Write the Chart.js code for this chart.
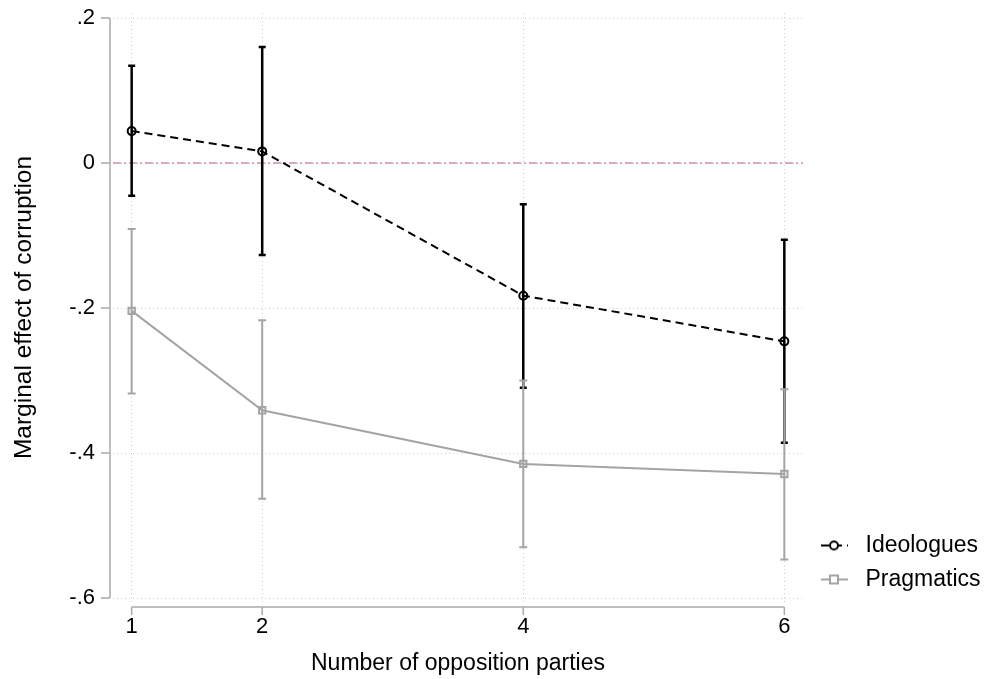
<!DOCTYPE html>
<html lang="en">
<head>
  <meta charset="UTF-8">
  <title>Marginal effect of corruption</title>
  <script src="https://cdn.jsdelivr.net/npm/chart.js"></script>
  <style>
    html, body { margin: 0; padding: 0; background: #fff; }
  </style>
</head>
<body>
  <canvas id="effectChart" width="990" height="679"></canvas>

  <script>
    // data
    const parties = [1, 2, 4, 6];
    const partyLabels = ['1', '2', '4', '6'];
    const yTicks = [0.2, 0, -0.2, -0.4, -0.6];
    const yTickLabels = ['.2', '0', '-.2', '-.4', '-.6'];

    const ideoEffect = [0.044, 0.016, -0.183, -0.246];
    const ideoLower = [-0.045, -0.127, -0.310, -0.386];
    const ideoUpper = [0.134, 0.160, -0.057, -0.106];

    const pragEffect = [-0.204, -0.341, -0.415, -0.429];
    const pragLower = [-0.318, -0.463, -0.530, -0.547];
    const pragUpper = [-0.091, -0.217, -0.300, -0.312];

    const FONT = "'Liberation Sans', Arial, sans-serif";
    const GRAY = '#a4a4a4';

    // small legend symbols: line + marker
    function legendIcon(kind) {
      const c = document.createElement('canvas');
      c.width = 30; c.height = 14;
      const g = c.getContext('2d');
      g.lineWidth = 2;
      if (kind === 'ideo') {
        g.strokeStyle = '#000';
        g.setLineDash([8, 5]);
        g.beginPath(); g.moveTo(2, 7); g.lineTo(29, 7); g.stroke();
        g.setLineDash([]);
        g.fillStyle = '#fff';
        g.beginPath(); g.arc(15, 7, 4, 0, Math.PI * 2); g.fill(); g.stroke();
      } else {
        g.strokeStyle = GRAY;
        g.beginPath(); g.moveTo(2, 7); g.lineTo(29, 7); g.stroke();
        g.fillStyle = '#fff';
        g.fillRect(11, 3, 8, 8); g.strokeRect(11, 3, 8, 8);
      }
      return c;
    }
    const legendIcons = [legendIcon('ideo'), legendIcon('prag')];

    function drawBars(ctx, x, y, lower, upper, color, width, cap) {
      ctx.strokeStyle = color;
      ctx.lineWidth = width;
      ctx.setLineDash([]);
      parties.forEach((p, i) => {
        const px = x.getPixelForValue(p);
        const top = y.getPixelForValue(upper[i]);
        const bot = y.getPixelForValue(lower[i]);
        ctx.beginPath();
        ctx.moveTo(px, top); ctx.lineTo(px, bot);
        ctx.moveTo(px - cap, top); ctx.lineTo(px + cap, top);
        ctx.moveTo(px - cap, bot); ctx.lineTo(px + cap, bot);
        ctx.stroke();
      });
    }

    const stataBits = {
      id: 'stataBits',
      afterInit(chart) {
        // fixed width for the legend column on the right
        const lg = chart.legend;
        const fit = lg.fit;
        lg.fit = function () { fit.call(this); this.width = 187; };
      },
      beforeDatasetsDraw(chart) {
        const { ctx, chartArea, scales: { x, y } } = chart;
        ctx.save();
        // reference line at zero
        const y0 = y.getPixelForValue(0);
        ctx.strokeStyle = '#d08db4';
        ctx.lineWidth = 1.5;
        ctx.setLineDash([8, 3, 2, 3]);
        ctx.beginPath(); ctx.moveTo(chartArea.left, y0); ctx.lineTo(chartArea.right, y0); ctx.stroke();
        // confidence intervals
        drawBars(ctx, x, y, ideoLower, ideoUpper, '#000', 2.5, 3.5);
        drawBars(ctx, x, y, pragLower, pragUpper, GRAY, 2, 4);
        ctx.restore();
      },
      afterDraw(chart) {
        // offset axis lines with outward ticks
        const { ctx, chartArea, scales: { x, y } } = chart;
        ctx.save();
        ctx.strokeStyle = '#ababab';
        ctx.lineWidth = 1.5;
        ctx.setLineDash([]);
        const axX = chartArea.left - 3;
        const axY = chartArea.bottom + 5;
        ctx.beginPath();
        ctx.moveTo(axX, y.getPixelForValue(yTicks[0]));
        ctx.lineTo(axX, y.getPixelForValue(yTicks[yTicks.length - 1]));
        yTicks.forEach(v => {
          const py = y.getPixelForValue(v);
          ctx.moveTo(axX, py); ctx.lineTo(axX - 9, py);
        });
        ctx.moveTo(x.getPixelForValue(parties[0]), axY);
        ctx.lineTo(x.getPixelForValue(parties[parties.length - 1]), axY);
        parties.forEach(v => {
          const px = x.getPixelForValue(v);
          ctx.moveTo(px, axY); ctx.lineTo(px, axY + 8);
        });
        ctx.stroke();
        ctx.restore();
      }
    };

    new Chart(document.getElementById('effectChart'), {
      type: 'line',
      data: {
        datasets: [
          {
            label: 'Ideologues',
            data: parties.map((p, i) => ({ x: p, y: ideoEffect[i] })),
            borderColor: '#000',
            borderWidth: 2,
            borderDash: [8, 5],
            pointStyle: 'circle',
            pointRadius: 4,
            pointBorderWidth: 2,
            pointBorderColor: '#000',
            pointBackgroundColor: 'rgba(255,255,255,0)',
            tension: 0
          },
          {
            label: 'Pragmatics',
            data: parties.map((p, i) => ({ x: p, y: pragEffect[i] })),
            borderColor: GRAY,
            borderWidth: 2,
            pointStyle: 'rect',
            pointRadius: 4.5,
            pointBorderWidth: 2,
            pointBorderColor: GRAY,
            pointBackgroundColor: 'rgba(255,255,255,0)',
            tension: 0
          }
        ]
      },
      options: {
        responsive: false,
        animation: false,
        layout: { padding: { top: 13, left: 0, right: 0, bottom: 0 } },
        plugins: {
          tooltip: { enabled: false },
          legend: {
            position: 'right',
            align: 'end',
            fullSize: false,
            labels: {
              usePointStyle: true,
              pointStyleWidth: 40,
              padding: 11,
              color: '#000',
              font: { family: FONT, size: 23 },
              generateLabels(chart) {
                const items = Chart.defaults.plugins.legend.labels.generateLabels(chart);
                items.forEach((it, i) => { it.pointStyle = legendIcons[i]; });
                return items;
              }
            }
          }
        },
        scales: {
          x: {
            type: 'linear',
            min: 0.857,
            max: 6.143,
            afterBuildTicks: s => { s.ticks = parties.map(v => ({ value: v })); },
            afterFit: s => {
              s.height = 77;
              s.paddingLeft = 0; s.paddingRight = 0;
            },
            ticks: {
              callback: (v, i) => partyLabels[i],
              color: '#000',
              padding: 12,
              maxRotation: 0,
              font: { family: FONT, size: 22 }
            },
            grid: { color: '#cfcfcf', lineWidth: 1, drawTicks: false },
            border: { display: false, dash: [1, 3] },
            title: {
              display: true,
              text: 'Number of opposition parties',
              color: '#000',
              padding: { top: 0, bottom: 2 },
              font: { family: FONT, size: 23 }
            }
          },
          y: {
            min: -0.6055,
            max: 0.2069,
            afterBuildTicks: s => { s.ticks = yTicks.map(v => ({ value: v })); },
            afterFit: s => {
              s.width = 113;
              s.paddingTop = 0; s.paddingBottom = 0;
            },
            ticks: {
              callback: (v, i) => yTickLabels[i],
              color: '#000',
              padding: 18,
              font: { family: FONT, size: 22 }
            },
            grid: { color: '#cfcfcf', lineWidth: 1, drawTicks: false },
            border: { display: false, dash: [1, 3] },
            title: {
              display: true,
              text: 'Marginal effect of corruption',
              color: '#000',
              padding: { top: 10, bottom: 0 },
              font: { family: FONT, size: 24.5 }
            }
          }
        }
      },
      plugins: [stataBits]
    });
  </script>
</body>
</html>
